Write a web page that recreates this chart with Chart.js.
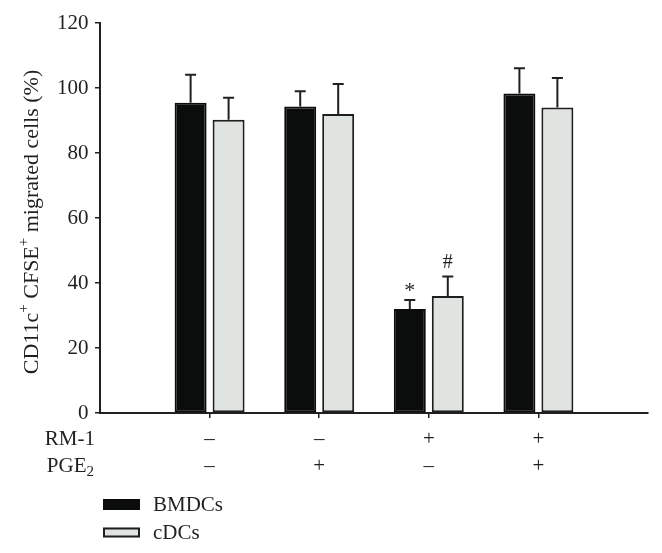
<!DOCTYPE html>
<html><head><meta charset="utf-8">
<script src="https://cdn.jsdelivr.net/npm/chart.js@4.4.1/dist/chart.umd.min.js"></script>
<style>html,body{margin:0;padding:0;background:#fff}#wrap{width:662px;height:553px}</style>
</head><body><div id="wrap"><canvas id="c" width="662" height="553"></canvas></div>
<script>
// ---- data ----
const groups = [1, 2, 3, 4];
const rm1Row = ['–', '–', '+', '+'];
const pge2Row = ['–', '+', '–', '+'];
const bmdcs = [95.5, 94.3, 32.0, 98.3];
const bmdcsErr = [8.6, 4.7, 2.8, 7.8];
const bmdcsMarks = ['', '', '*', ''];
const cdcs = [90.2, 92.0, 36.0, 94.0];
const cdcsErr = [6.8, 9.2, 6.0, 9.1];
const cdcsMarks = ['', '', '#', ''];
const yTicks = [0, 20, 40, 60, 80, 100, 120];
const seriesNames = ['BMDCs', 'cDCs'];

const INK = '#231f20';
const FONT = '"Liberation Serif", "DejaVu Serif", serif';

const errorPlugin = {
  id: 'errorBars',
  afterDatasetsDraw(chart) {
    const ctx = chart.ctx, ys = chart.scales.y;
    chart.data.datasets.forEach((ds, di) => {
      const meta = chart.getDatasetMeta(di);
      meta.data.forEach((bar, i) => {
        const top = ys.getPixelForValue(ds.data[i].y + ds.errors[i]);
        ctx.save();
        ctx.strokeStyle = INK; ctx.lineWidth = 2;
        ctx.beginPath();
        ctx.moveTo(bar.x, bar.y); ctx.lineTo(bar.x, top);
        ctx.moveTo(bar.x - 5.5, top); ctx.lineTo(bar.x + 5.5, top);
        ctx.stroke();
        const m = ds.marks[i];
        if (m) {
          ctx.font = (m === '*' ? '22px ' : '20px ') + FONT;
          ctx.fillStyle = INK; ctx.textAlign = 'center'; ctx.textBaseline = 'alphabetic';
          const mt = ctx.measureText(m);
          ctx.fillText(m, bar.x, top - 8.5 - mt.actualBoundingBoxDescent);
        }
        ctx.restore();
      });
    });
  }
};

const textPlugin = {
  id: 'texts',
  afterDraw(chart) {
    const ctx = chart.ctx, xs = chart.scales.x;
    ctx.save();
    ctx.fillStyle = INK;
    // y-axis title with superscripts
    const parts = [['CD11c', 0], ['+', 1], [' CFSE', 0], ['+', 1], [' migrated cells (%)', 0]];
    const tBig = '22px ' + FONT, tSmall = '15px ' + FONT;
    let total = 0;
    parts.forEach(p => { ctx.font = p[1] ? tSmall : tBig; total += ctx.measureText(p[0]).width; });
    ctx.translate(32, 222);
    ctx.rotate(-Math.PI / 2);
    ctx.textBaseline = 'middle'; ctx.textAlign = 'left';
    let x = -total / 2;
    parts.forEach(p => {
      ctx.font = p[1] ? tSmall : tBig;
      ctx.fillText(p[0], x, p[1] ? -8 : 0);
      x += ctx.measureText(p[0]).width;
    });
    ctx.setTransform(1, 0, 0, 1, 0, 0);
    const big = '21px ' + FONT, small = '15px ' + FONT;
    // row headers
    const lh = 27.5;
    const row1 = xs.top + 5 + 7.25 + lh / 2;
    const row2 = row1 + lh;
    ctx.textBaseline = 'middle'; ctx.textAlign = 'right';
    ctx.font = big;
    ctx.fillText('RM-1', 95, row1);
    ctx.font = small;
    const w2 = ctx.measureText('2').width;
    ctx.fillText('2', 94, row2 + 6);
    ctx.font = big;
    ctx.fillText('PGE', 94 - w2, row2);
    // legend
    const boxes = [[499, 510], [527.5, 537.5]];
    chart.data.datasets.forEach((ds, di) => {
      const [t, b] = boxes[di];
      ctx.fillStyle = ds.backgroundColor;
      ctx.fillRect(103, t, 37, b - t);
      ctx.strokeStyle = ds.borderColor; ctx.lineWidth = 2;
      ctx.strokeRect(104, t + 1, 35, b - t - 2);
      ctx.fillStyle = INK; ctx.font = big; ctx.textAlign = 'left';
      ctx.fillText(ds.label, 153, (t + b) / 2 + 1);
    });
    ctx.restore();
  }
};

new Chart(document.getElementById('c'), {
  type: 'bar',
  data: {
    datasets: [
      { label: seriesNames[0], data: groups.map((g, i) => ({ x: g, y: bmdcs[i] })),
        errors: bmdcsErr, marks: bmdcsMarks,
        backgroundColor: '#0b0d0c', borderColor: '#0b0d0c', borderWidth: 2, borderSkipped: false,
        categoryPercentage: 0.693, barPercentage: 0.842 },
      { label: seriesNames[1], data: groups.map((g, i) => ({ x: g, y: cdcs[i] })),
        errors: cdcsErr, marks: cdcsMarks,
        backgroundColor: '#dfe4e1', borderColor: '#1e1e1e', borderWidth: 2, borderSkipped: false,
        categoryPercentage: 0.693, barPercentage: 0.842 }
    ]
  },
  options: {
    responsive: false, animation: false, devicePixelRatio: 1,
    layout: { padding: { top: 23, right: 14, left: 0, bottom: 0 } },
    plugins: { legend: { display: false }, tooltip: { enabled: false } },
    scales: {
      x: {
        type: 'linear', min: 0, max: 5, offset: false,
        afterBuildTicks: s => { s.ticks = groups.map(v => ({ value: v })); },
        afterFit: s => { s.height = 140; },
        grid: { display: true, drawOnChartArea: false, offset: false, tickLength: 5, lineWidth: 1.5, tickColor: INK },
        border: { display: true, color: INK, width: 2 },
        ticks: {
          autoSkip: false, maxRotation: 0, padding: 7.25, color: INK,
          font: { family: FONT, size: 21, lineHeight: 1.31 },
          callback: (v) => { const i = groups.indexOf(v); return i < 0 ? '' : [rm1Row[i], pge2Row[i]]; }
        }
      },
      y: {
        min: 0, max: 120,
        afterBuildTicks: s => { s.ticks = yTicks.map(v => ({ value: v })); },
        afterFit: s => { s.width = 100; },
        grid: { display: true, drawOnChartArea: false, tickLength: 5, lineWidth: 1.5, tickColor: INK },
        border: { display: true, color: INK, width: 2 },
        ticks: { padding: 6.5, color: INK, font: { family: FONT, size: 21 } }
      }
    }
  },
  plugins: [errorPlugin, textPlugin]
});
</script></body></html>
